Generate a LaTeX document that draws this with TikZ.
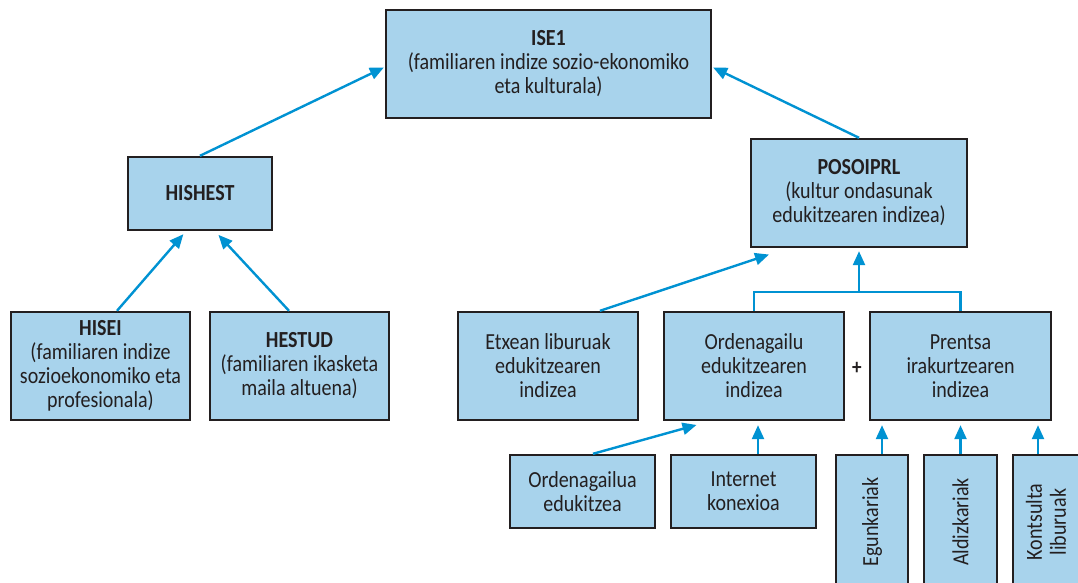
\documentclass[tikz,border=0pt]{standalone}
\usepackage{fontspec}
\setmainfont[FakeStretch=0.87]{Carlito}
\usepackage{graphicx}
\usetikzlibrary{arrows.meta,calc}

\definecolor{boxfill}{RGB}{168,211,236}
\definecolor{boxline}{RGB}{35,31,32}
\definecolor{arrblue}{RGB}{0,146,210}

\begin{document}
\begin{tikzpicture}[
  x=1pt,y=-1pt,
  >={Triangle[length=14pt,width=12pt]},
  box/.style={draw=boxline,fill=boxfill,line width=2.4pt,inner sep=0pt,
    align=center,text=boxline,font=\fontsize{23}{24}\selectfont},
  wh/.style 2 args={minimum width=#1pt,minimum height=#2pt},
  link/.style={draw=arrblue,line width=2.4pt},
  arr/.style={link,->,shorten >=4pt}
]
\useasboundingbox (0,0) rectangle (1078,583);
\clip (0,0) rectangle (1078,583);

% top level
\node[box,wh={325}{108}] (ise) at (548.5,64)
  {\textbf{ISE1}\\(familiaren indize sozio-ekonomiko\\eta kulturala)};

% left branch
\node[box,wh={144}{73}] (hishest) at (200,193.5) {\textbf{HISHEST}};
\node[box,wh={179}{108}] (hisei) at (100.5,366)
  {\textbf{HISEI}\\(familiaren indize\\sozioekonomiko eta\\profesionala)};
\node[box,wh={179}{108}] (hestud) at (299.5,366)
  {\textbf{HESTUD}\\(familiaren ikasketa\\maila altuena)};

% right branch
\node[box,wh={216}{108}] (posoiprl) at (859,193)
  {\textbf{POSOIPRL}\\(kultur ondasunak\\edukitzearen indizea)};
\node[box,wh={180}{108}] (etxean) at (548,366)
  {Etxean liburuak\\edukitzearen\\indizea};
\node[box,wh={180}{108}] (orden) at (754,366)
  {Ordenagailu\\edukitzearen\\indizea};
\node[box,wh={181}{108}] (prentsa) at (960.5,366)
  {Prentsa\\irakurtzearen\\indizea};
\node[text=boxline,font=\bfseries\fontsize{22}{24}\selectfont] (plus) at (857,368) {+};

% bottom row
\node[box,wh={145}{73}] (ordedu) at (582.5,491.5) {Ordenagailua\\edukitzea};
\node[box,wh={145}{73}] (internet) at (743.5,491.5) {Internet\\konexioa};
\node[box,wh={72}{134}] (egun) at (872,522) {\rotatebox{90}{Egunkariak}};
\node[box,wh={73}{134}] (aldiz) at (960.5,522) {\rotatebox{90}{Aldizkariak}};
\node[box,wh={72}{134}] (kontsulta) at (1049,522)
  {\rotatebox{90}{\begin{tabular}{@{}c@{}}Kontsulta\\liburuak\end{tabular}}};

% arrows into ISE1
\draw[arr,shorten >=1pt] (hishest.north) -- ([yshift=-3pt]ise.west);
\draw[arr,shorten >=1pt] (posoiprl.north) -- ([yshift=-3pt]ise.east);

% arrows into HISHEST
\draw[arr] ([xshift=16.5pt]hisei.north) -- ([xshift=-14pt]hishest.south);
\draw[arr,shorten >=5pt] ([xshift=-10.5pt]hestud.north) -- ([xshift=15pt]hishest.south);

% arrows into POSOIPRL
\draw[arr,shorten >=20pt] ([xshift=52pt]etxean.north) -- ([xshift=-71pt]posoiprl.south);
\coordinate (brk) at ([yshift=-44pt]posoiprl.south);
\draw[link] (orden.north) |- (brk) -| (prentsa.north);
\draw[arr,shorten >=3pt] (brk) -- (posoiprl.south);

% arrows into Ordenagailu
\draw[arr,shorten >=14pt] ([xshift=10.5pt]ordedu.north) -- ([xshift=-44pt]orden.south);
\coordinate (internetA) at ([xshift=14.5pt]internet.north);
\draw[arr] (internetA) -- (internetA |- orden.south);

% arrows into Prentsa
\foreach \n/\dx in {egun/10,aldiz/0,kontsulta/-11} {
  \coordinate (\n A) at ([xshift=\dx pt]\n.north);
  \draw[arr] (\n A) -- (\n A |- prentsa.south);
}

\end{tikzpicture}
\end{document}
